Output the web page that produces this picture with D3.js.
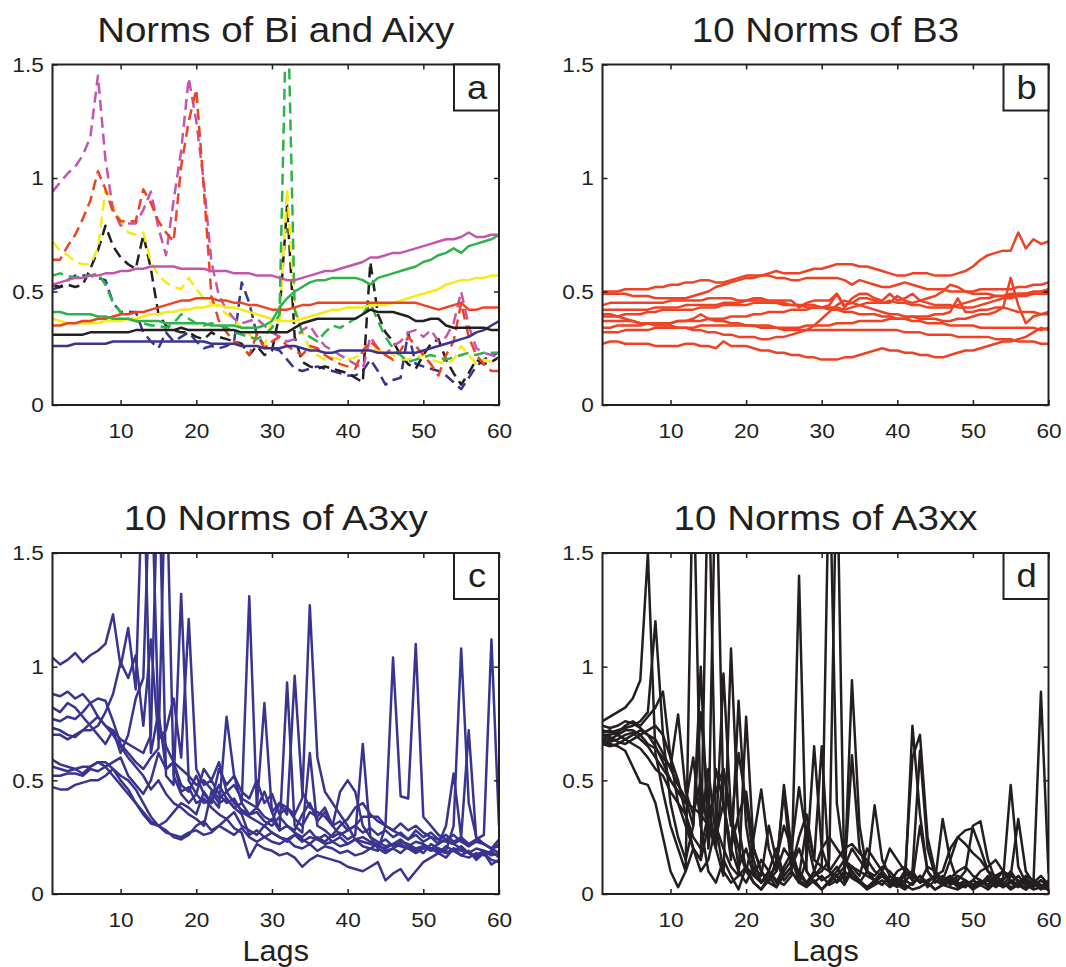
<!DOCTYPE html>
<html><head><meta charset="utf-8">
<script src="https://cdn.jsdelivr.net/npm/d3@7"></script>
<style>
body{margin:0;background:#fff}
svg{display:block}
text{font-family:"Liberation Sans",Arial,Helvetica,sans-serif;fill:#231f20}
</style>
</head><body><svg id="chart" width="1066" height="967"></svg>
<script>
// ---------------- DATA ----------------
const lags = d3.range(1, 61);
const xTickValues = [10, 20, 30, 40, 50, 60];
const yTickValues = [0, 0.5, 1, 1.5];
const yTickLabels = ["0", "0.5", "1", "1.5"];
const panelTitles = ["Norms of Bi and Aixy", "10 Norms of B3", "10 Norms of A3xy", "10 Norms of A3xx"];
const panelLetters = ["a", "b", "c", "d"];
const xAxisLabel = "Lags";

// Panel a: solid = Bi, dashed = Aixy
const aMagentaSolid = [0.53,0.54,0.55,0.56,0.56,0.57,0.57,0.58,0.58,0.59,0.59,0.60,0.60,0.61,0.61,0.61,0.61,0.60,0.60,0.60,0.60,0.59,0.59,0.59,0.58,0.58,0.58,0.57,0.57,0.57,0.56,0.55,0.55,0.56,0.57,0.58,0.59,0.59,0.60,0.61,0.62,0.63,0.65,0.65,0.66,0.67,0.67,0.68,0.69,0.70,0.71,0.72,0.73,0.73,0.74,0.76,0.74,0.74,0.75,0.75];
const aGreenSolid = [0.41,0.41,0.40,0.40,0.40,0.40,0.39,0.39,0.38,0.38,0.38,0.37,0.37,0.37,0.37,0.36,0.36,0.36,0.36,0.36,0.36,0.35,0.35,0.35,0.35,0.34,0.34,0.34,0.35,0.37,0.43,0.47,0.50,0.52,0.54,0.55,0.55,0.56,0.56,0.56,0.56,0.55,0.53,0.56,0.57,0.58,0.59,0.60,0.61,0.63,0.64,0.66,0.67,0.69,0.67,0.70,0.71,0.72,0.73,0.75];
const aRedSolid = [0.35,0.35,0.36,0.36,0.37,0.37,0.38,0.38,0.39,0.40,0.40,0.41,0.41,0.42,0.43,0.44,0.45,0.46,0.46,0.47,0.47,0.47,0.46,0.46,0.45,0.45,0.44,0.44,0.43,0.42,0.42,0.42,0.43,0.44,0.44,0.45,0.45,0.45,0.45,0.45,0.45,0.45,0.45,0.45,0.45,0.45,0.45,0.45,0.45,0.44,0.43,0.42,0.43,0.44,0.45,0.42,0.42,0.43,0.43,0.43];
const aYellowSolid = [0.38,0.37,0.36,0.36,0.36,0.36,0.36,0.37,0.37,0.37,0.38,0.38,0.39,0.40,0.40,0.41,0.41,0.42,0.42,0.43,0.43,0.44,0.44,0.43,0.43,0.42,0.41,0.40,0.39,0.38,0.37,0.37,0.37,0.38,0.39,0.40,0.41,0.42,0.42,0.43,0.43,0.43,0.44,0.44,0.44,0.45,0.46,0.47,0.48,0.49,0.50,0.51,0.53,0.54,0.55,0.55,0.56,0.56,0.57,0.57];
const aBlackSolid = [0.31,0.31,0.31,0.31,0.31,0.32,0.32,0.32,0.32,0.32,0.32,0.33,0.33,0.33,0.33,0.33,0.33,0.34,0.33,0.33,0.33,0.33,0.33,0.33,0.33,0.32,0.32,0.32,0.32,0.32,0.32,0.32,0.34,0.36,0.37,0.38,0.38,0.38,0.38,0.38,0.38,0.40,0.42,0.41,0.41,0.41,0.40,0.39,0.37,0.37,0.38,0.38,0.35,0.34,0.34,0.34,0.34,0.34,0.33,0.33];
const aBlueSolid = [0.26,0.26,0.26,0.27,0.27,0.27,0.27,0.27,0.28,0.28,0.28,0.28,0.28,0.28,0.28,0.28,0.28,0.28,0.28,0.28,0.28,0.27,0.27,0.27,0.27,0.26,0.26,0.26,0.25,0.25,0.25,0.26,0.26,0.25,0.24,0.24,0.23,0.23,0.24,0.24,0.24,0.24,0.24,0.23,0.23,0.23,0.23,0.23,0.23,0.24,0.25,0.26,0.27,0.28,0.29,0.30,0.32,0.33,0.35,0.37];
const aMagentaDashed = [0.94,0.98,1.02,1.05,1.10,1.18,1.45,1.08,0.86,0.79,0.80,0.80,0.86,0.94,0.78,0.66,0.90,1.12,1.44,1.25,0.98,0.63,0.48,0.42,0.38,0.36,0.37,0.38,0.35,0.32,0.30,0.28,0.29,0.33,0.35,0.30,0.26,0.24,0.22,0.20,0.18,0.16,0.30,0.25,0.22,0.26,0.28,0.32,0.33,0.30,0.33,0.28,0.30,0.36,0.50,0.35,0.25,0.23,0.22,0.21];
const aRedDashed = [0.64,0.64,0.70,0.75,0.82,0.90,1.03,0.95,0.85,0.81,0.81,0.81,0.95,0.89,0.81,0.76,0.72,1.05,1.25,1.39,0.95,0.48,0.37,0.32,0.28,0.26,0.22,0.31,0.25,0.28,0.30,0.26,0.24,0.22,0.26,0.25,0.22,0.20,0.18,0.17,0.16,0.24,0.28,0.25,0.22,0.20,0.24,0.30,0.26,0.22,0.18,0.13,0.22,0.28,0.45,0.30,0.22,0.18,0.15,0.15];
const aGreenDashed = [0.57,0.58,0.57,0.56,0.57,0.57,0.58,0.53,0.45,0.41,0.38,0.37,0.36,0.35,0.35,0.34,0.36,0.40,0.38,0.36,0.35,0.36,0.35,0.34,0.32,0.31,0.30,0.29,0.31,0.34,0.40,1.90,0.42,0.32,0.30,0.28,0.32,0.35,0.34,0.36,0.38,0.40,0.45,0.37,0.30,0.25,0.22,0.19,0.20,0.21,0.22,0.21,0.20,0.21,0.22,0.23,0.22,0.23,0.23,0.23];
const aYellowDashed = [0.72,0.68,0.66,0.63,0.62,0.62,0.69,0.95,0.88,0.81,0.76,0.75,0.76,0.63,0.57,0.54,0.52,0.51,0.56,0.51,0.47,0.45,0.43,0.40,0.38,0.34,0.31,0.28,0.26,0.37,0.37,0.95,0.43,0.32,0.25,0.22,0.20,0.21,0.20,0.20,0.21,0.23,0.27,0.23,0.25,0.22,0.20,0.20,0.21,0.22,0.20,0.19,0.18,0.20,0.26,0.22,0.18,0.20,0.19,0.20];
const aBlackDashed = [0.53,0.52,0.53,0.52,0.53,0.60,0.68,0.79,0.70,0.65,0.62,0.60,0.75,0.60,0.40,0.35,0.33,0.32,0.32,0.30,0.29,0.32,0.30,0.29,0.28,0.27,0.22,0.26,0.22,0.24,0.40,0.88,0.30,0.19,0.17,0.16,0.17,0.16,0.15,0.14,0.12,0.10,0.63,0.40,0.32,0.28,0.22,0.18,0.16,0.22,0.27,0.29,0.20,0.14,0.09,0.14,0.20,0.18,0.19,0.21];
const aBlueDashed = [0.51,0.52,0.55,0.57,0.57,0.57,0.56,0.55,0.45,0.41,0.41,0.41,0.32,0.28,0.25,0.32,0.28,0.30,0.32,0.28,0.25,0.26,0.25,0.26,0.28,0.54,0.45,0.31,0.26,0.25,0.24,0.20,0.16,0.15,0.16,0.17,0.16,0.15,0.14,0.13,0.13,0.15,0.20,0.15,0.09,0.11,0.12,0.32,0.18,0.17,0.16,0.15,0.13,0.10,0.07,0.12,0.17,0.20,0.22,0.23];

// Panel b: 10 norms of B3
const b3Norms = [
[0.50,0.50,0.50,0.51,0.51,0.51,0.51,0.52,0.52,0.53,0.53,0.54,0.54,0.55,0.55,0.54,0.54,0.55,0.56,0.57,0.57,0.57,0.58,0.59,0.58,0.58,0.58,0.59,0.60,0.60,0.61,0.62,0.62,0.62,0.61,0.61,0.60,0.59,0.58,0.57,0.57,0.58,0.58,0.58,0.57,0.57,0.57,0.58,0.59,0.61,0.64,0.66,0.67,0.68,0.68,0.76,0.69,0.73,0.71,0.72],
[0.49,0.49,0.49,0.49,0.48,0.48,0.48,0.47,0.47,0.47,0.47,0.47,0.48,0.49,0.50,0.52,0.53,0.54,0.55,0.56,0.56,0.57,0.57,0.56,0.56,0.55,0.55,0.56,0.56,0.56,0.56,0.56,0.55,0.53,0.55,0.54,0.53,0.52,0.52,0.53,0.54,0.53,0.52,0.51,0.51,0.51,0.50,0.50,0.50,0.50,0.51,0.51,0.51,0.51,0.51,0.52,0.52,0.53,0.53,0.54],
[0.44,0.45,0.45,0.45,0.45,0.45,0.45,0.45,0.45,0.46,0.46,0.46,0.46,0.46,0.47,0.47,0.47,0.47,0.46,0.46,0.47,0.47,0.46,0.46,0.46,0.46,0.43,0.45,0.46,0.46,0.46,0.49,0.44,0.45,0.47,0.47,0.46,0.45,0.45,0.48,0.46,0.45,0.46,0.47,0.48,0.50,0.53,0.52,0.50,0.49,0.49,0.49,0.48,0.48,0.49,0.49,0.49,0.50,0.50,0.51],
[0.42,0.42,0.42,0.42,0.42,0.42,0.42,0.43,0.43,0.43,0.43,0.44,0.44,0.44,0.44,0.44,0.45,0.45,0.45,0.46,0.46,0.46,0.45,0.45,0.44,0.44,0.44,0.44,0.44,0.43,0.43,0.43,0.42,0.43,0.44,0.45,0.45,0.45,0.46,0.45,0.45,0.44,0.44,0.43,0.43,0.43,0.43,0.44,0.45,0.46,0.47,0.47,0.48,0.48,0.48,0.49,0.49,0.49,0.49,0.49],
[0.40,0.40,0.39,0.38,0.37,0.36,0.36,0.35,0.35,0.35,0.34,0.34,0.33,0.33,0.32,0.32,0.31,0.31,0.30,0.30,0.30,0.29,0.29,0.30,0.30,0.31,0.32,0.33,0.35,0.38,0.41,0.44,0.46,0.45,0.44,0.43,0.42,0.41,0.40,0.40,0.39,0.39,0.38,0.38,0.38,0.37,0.37,0.38,0.38,0.39,0.40,0.40,0.41,0.43,0.56,0.44,0.36,0.39,0.40,0.41],
[0.39,0.39,0.39,0.40,0.40,0.40,0.41,0.41,0.42,0.42,0.42,0.42,0.42,0.43,0.43,0.43,0.44,0.44,0.44,0.44,0.45,0.45,0.45,0.45,0.45,0.44,0.44,0.43,0.43,0.43,0.42,0.42,0.41,0.41,0.40,0.40,0.40,0.39,0.39,0.38,0.38,0.37,0.37,0.36,0.36,0.36,0.35,0.35,0.35,0.35,0.34,0.34,0.34,0.34,0.34,0.34,0.34,0.34,0.33,0.34],
[0.37,0.37,0.37,0.37,0.37,0.36,0.36,0.36,0.36,0.36,0.37,0.37,0.37,0.37,0.38,0.38,0.38,0.39,0.39,0.39,0.40,0.40,0.41,0.41,0.41,0.42,0.42,0.42,0.43,0.43,0.44,0.49,0.43,0.47,0.49,0.49,0.47,0.46,0.49,0.46,0.47,0.49,0.46,0.45,0.44,0.44,0.44,0.43,0.43,0.43,0.44,0.45,0.46,0.47,0.47,0.48,0.48,0.49,0.49,0.50],
[0.34,0.34,0.35,0.35,0.35,0.35,0.36,0.36,0.36,0.36,0.37,0.37,0.38,0.40,0.38,0.37,0.37,0.36,0.36,0.35,0.35,0.35,0.35,0.34,0.34,0.34,0.34,0.35,0.35,0.35,0.35,0.36,0.36,0.36,0.37,0.37,0.37,0.37,0.38,0.38,0.38,0.39,0.39,0.39,0.40,0.40,0.41,0.47,0.41,0.41,0.42,0.42,0.43,0.43,0.42,0.41,0.41,0.41,0.40,0.40],
[0.32,0.32,0.32,0.33,0.33,0.33,0.33,0.34,0.34,0.34,0.34,0.34,0.34,0.35,0.35,0.35,0.35,0.35,0.35,0.35,0.35,0.34,0.34,0.34,0.33,0.33,0.33,0.33,0.33,0.33,0.33,0.33,0.33,0.33,0.33,0.33,0.33,0.33,0.33,0.33,0.32,0.32,0.32,0.31,0.31,0.31,0.31,0.30,0.30,0.30,0.30,0.30,0.29,0.29,0.29,0.28,0.28,0.28,0.27,0.27],
[0.27,0.28,0.28,0.27,0.27,0.27,0.27,0.26,0.26,0.26,0.26,0.27,0.27,0.26,0.26,0.25,0.28,0.26,0.26,0.26,0.25,0.24,0.24,0.23,0.23,0.22,0.22,0.21,0.21,0.20,0.20,0.20,0.21,0.21,0.22,0.23,0.24,0.25,0.24,0.24,0.23,0.23,0.22,0.22,0.21,0.21,0.22,0.23,0.24,0.24,0.25,0.26,0.27,0.28,0.28,0.29,0.30,0.32,0.34,0.33]
];

// Panel c: 10 norms of A3xy
const a3xyNorms = [
[1.04,1.01,1.03,1.06,1.02,1.05,1.07,1.10,1.23,1.00,1.17,0.90,1.95,0.62,0.80,0.55,0.58,0.45,0.47,0.40,0.42,0.38,0.35,0.33,0.36,0.30,0.28,0.26,0.30,0.27,0.25,0.24,0.26,0.23,0.25,0.24,0.22,0.23,0.21,0.22,0.24,0.23,0.22,0.21,0.20,0.22,0.21,0.20,0.19,0.21,0.20,0.19,0.18,0.20,0.19,0.18,0.17,0.19,0.18,0.17],
[0.88,0.87,0.89,0.86,0.88,0.84,0.78,0.74,0.72,0.68,0.66,0.64,0.62,0.70,1.95,0.52,0.48,1.32,0.50,0.44,0.40,0.42,0.38,0.78,0.52,0.40,1.31,0.38,0.84,0.36,0.28,0.93,0.30,0.27,0.62,0.30,0.28,0.25,0.27,0.24,0.26,0.66,0.25,0.23,0.21,0.22,0.24,0.21,0.23,0.22,0.20,0.22,0.30,0.53,0.25,0.72,0.24,0.22,0.20,0.21],
[0.82,0.80,0.84,0.82,0.78,0.74,0.70,0.66,0.72,0.62,0.70,0.86,0.95,1.95,0.75,0.65,0.58,0.55,0.52,0.48,0.50,0.46,0.42,0.45,0.40,0.37,0.35,0.38,0.34,0.32,0.40,0.35,0.96,0.45,0.38,0.36,0.34,0.30,0.32,0.28,0.30,0.27,0.29,0.26,0.28,0.25,0.27,0.24,0.26,0.23,0.25,0.24,0.23,0.22,0.24,0.21,0.23,0.22,0.20,0.22],
[0.77,0.76,0.78,0.77,0.80,0.84,0.86,0.85,0.76,0.66,0.62,0.58,0.55,0.60,0.64,1.95,0.52,0.44,0.40,0.44,0.55,0.50,0.58,0.45,0.48,0.42,0.40,0.38,0.45,0.36,0.40,0.38,0.35,0.42,1.27,0.60,0.45,0.40,0.35,0.30,0.24,0.25,0.23,0.22,0.24,0.21,0.23,0.22,0.20,0.21,0.19,0.20,0.18,0.19,0.21,0.18,0.20,0.19,0.17,0.18],
[0.73,0.72,0.70,0.69,0.72,0.75,0.78,0.74,0.70,0.65,0.60,0.56,0.52,0.46,0.50,0.44,0.40,0.38,0.35,0.33,0.30,0.45,0.40,0.42,0.38,0.35,0.26,0.28,0.25,0.23,0.22,0.24,0.21,0.20,0.22,0.19,0.21,0.20,0.18,0.19,0.17,0.18,0.20,0.19,0.30,1.04,0.43,0.42,1.10,0.34,0.30,0.26,0.24,0.22,0.20,0.18,0.16,0.18,0.15,0.14],
[0.70,0.70,0.68,0.70,0.72,0.72,0.74,0.80,0.88,1.02,0.95,1.05,0.74,1.12,0.68,0.72,0.86,0.60,1.21,0.55,0.48,0.50,0.44,0.40,0.42,0.36,0.34,0.32,0.30,0.33,0.28,0.30,0.27,0.25,0.28,0.24,0.26,0.23,0.25,0.22,0.24,0.21,0.20,0.22,0.19,0.20,0.18,0.21,0.20,0.18,0.22,0.20,0.19,0.30,1.08,0.40,0.25,0.22,0.20,0.18],
[0.59,0.57,0.56,0.55,0.56,0.56,0.58,0.56,0.58,0.60,0.52,0.48,0.44,0.50,0.62,0.55,0.58,0.48,0.45,0.52,0.44,0.40,0.48,0.42,0.38,0.40,0.35,0.36,0.32,0.30,0.34,0.30,0.28,0.35,0.40,0.32,0.36,0.30,0.45,0.50,0.45,0.30,0.25,0.20,0.18,0.20,0.22,0.20,0.18,0.20,0.20,0.18,0.21,0.19,0.17,0.16,0.18,0.17,0.19,0.16],
[0.56,0.55,0.54,0.55,0.53,0.56,0.58,0.58,0.55,0.52,0.50,0.46,0.40,0.34,0.30,0.28,0.25,0.24,0.26,0.30,0.32,0.28,0.30,0.33,0.29,0.27,0.16,0.22,0.20,0.19,0.17,0.18,0.16,0.12,0.15,0.17,0.16,0.15,0.14,0.12,0.11,0.10,0.12,0.14,0.06,0.09,0.11,0.06,0.10,0.14,0.16,0.18,0.16,0.20,0.17,0.19,0.15,0.18,0.13,0.15],
[0.52,0.52,0.53,0.53,0.52,0.55,0.54,0.56,0.52,0.48,0.44,0.40,0.35,0.31,0.30,0.32,0.36,0.40,0.38,0.35,0.45,0.40,0.55,0.48,0.52,0.45,0.42,0.50,0.40,0.44,0.35,0.38,0.33,0.30,0.36,0.34,0.38,0.30,0.26,0.28,0.30,0.34,0.34,0.34,0.30,0.28,0.26,0.24,0.28,0.25,0.27,0.24,0.26,0.23,0.25,0.22,0.24,0.26,1.12,0.30],
[0.47,0.46,0.46,0.48,0.49,0.50,0.50,0.52,0.55,0.50,0.46,0.40,0.36,0.32,0.30,0.27,0.26,0.25,0.27,0.28,0.26,0.27,0.30,0.28,0.26,0.29,0.25,0.23,0.25,0.27,0.25,0.23,0.26,0.24,0.22,0.25,0.23,0.26,0.30,0.33,0.38,0.40,0.35,0.32,0.30,0.28,0.31,0.28,0.30,0.27,0.25,0.22,0.24,0.26,0.23,0.21,0.24,0.22,0.20,0.24]
];

// Panel d: 10 norms of A3xx
const a3xxNorms = [
[0.76,0.78,0.80,0.82,0.86,0.94,1.50,0.62,0.45,0.30,0.20,0.10,1.95,0.30,0.10,0.05,0.15,0.08,0.02,0.12,0.08,0.05,0.10,0.06,0.04,0.08,1.40,0.10,0.05,0.08,0.04,0.06,0.10,0.07,0.05,0.03,0.06,0.08,0.05,0.03,0.06,0.04,0.08,0.05,0.02,0.04,0.06,0.03,0.05,0.02,0.04,0.06,0.03,0.05,0.02,0.04,0.03,0.05,0.02,0.04],
[0.72,0.71,0.72,0.73,0.74,0.76,0.80,1.20,0.70,0.40,0.25,0.15,0.30,0.80,0.40,0.20,0.55,0.35,0.12,0.20,0.08,0.15,0.10,0.05,0.12,0.18,0.08,0.05,0.10,0.06,0.08,0.12,0.06,0.94,0.30,0.10,0.06,0.09,0.04,0.07,0.05,0.10,0.63,0.20,0.08,0.05,0.07,0.04,0.06,0.03,0.05,0.07,0.04,0.06,0.10,0.05,0.07,0.04,0.06,0.03],
[0.70,0.70,0.71,0.74,0.76,0.74,0.78,0.82,0.89,0.60,0.40,0.30,0.20,0.15,1.95,0.30,0.10,0.05,0.08,0.12,0.05,0.02,0.06,0.10,0.20,0.15,0.10,0.05,0.08,0.12,1.95,0.40,0.15,0.08,0.05,0.10,0.06,0.04,0.08,0.05,0.03,0.74,0.35,0.10,0.06,0.04,0.05,0.08,0.06,0.04,0.06,0.03,0.05,0.07,0.48,0.12,0.05,0.03,0.06,0.04],
[0.69,0.68,0.70,0.72,0.72,0.70,0.66,0.64,0.60,0.56,0.79,0.45,0.35,0.50,0.25,1.95,0.40,0.20,0.10,0.05,0.12,0.08,0.30,0.15,0.06,0.10,0.05,0.15,0.65,0.20,0.10,0.05,0.08,0.61,0.20,0.10,0.39,0.15,0.08,0.05,0.10,0.06,0.30,0.10,0.05,0.08,0.04,0.06,0.10,0.30,0.32,0.15,0.06,0.04,0.08,0.33,0.10,0.05,0.08,0.04],
[0.68,0.67,0.68,0.70,0.71,0.68,0.65,0.60,0.55,0.50,0.45,0.40,0.38,0.35,0.30,0.25,0.97,0.35,0.20,0.10,0.25,0.46,0.20,0.10,0.48,0.20,0.08,0.30,0.15,0.65,0.10,0.08,0.12,0.20,0.15,0.10,0.08,0.12,0.10,0.06,0.08,0.60,0.70,0.25,0.10,0.06,0.08,0.05,0.03,0.06,0.04,0.08,0.06,0.10,0.05,0.03,0.06,0.04,0.89,0.09],
[0.67,0.66,0.65,0.63,0.56,0.49,0.48,0.40,0.25,0.10,0.03,0.10,0.20,0.15,0.30,0.20,0.08,1.08,0.30,0.10,0.05,0.02,0.08,0.12,0.45,0.10,0.05,0.03,0.06,0.02,0.05,0.08,0.04,0.10,0.06,0.03,0.05,0.08,0.06,0.04,0.02,0.05,0.08,0.03,0.06,0.33,0.15,0.05,0.03,0.06,0.04,0.02,0.05,0.03,0.06,0.04,0.02,0.05,0.03,0.06],
[0.66,0.65,0.66,0.68,0.70,0.72,0.70,0.68,0.62,0.55,0.48,0.42,0.30,1.00,0.20,0.55,0.40,0.15,0.85,0.30,0.10,0.05,0.08,0.03,0.10,0.15,0.06,0.04,0.08,0.10,0.15,1.95,0.05,0.12,0.10,0.08,0.06,0.10,0.20,0.15,0.10,0.08,0.05,0.06,0.08,0.05,0.07,0.10,0.12,0.08,0.06,0.04,0.08,0.10,0.06,0.04,0.08,0.06,0.04,0.02],
[0.70,0.69,0.67,0.66,0.68,0.70,0.72,0.74,0.70,0.60,0.50,0.35,0.20,0.10,0.15,0.30,0.20,0.12,0.08,0.78,0.20,0.10,0.05,0.03,0.08,0.12,0.20,0.10,0.05,0.02,0.06,0.10,0.15,0.12,0.08,0.20,0.15,0.10,0.06,0.04,0.08,0.10,0.05,0.12,0.10,0.06,0.15,0.25,0.28,0.29,0.20,0.10,0.05,0.03,0.05,0.08,0.04,0.06,0.03,0.05],
[0.74,0.73,0.74,0.76,0.75,0.73,0.70,0.65,0.58,0.50,0.45,0.40,0.60,0.30,0.55,0.25,0.40,0.20,0.35,0.45,0.20,0.10,0.05,0.15,0.30,0.20,0.47,0.25,0.10,0.20,0.25,0.20,0.15,0.10,0.05,0.02,0.04,0.06,0.03,0.05,0.04,0.02,0.03,0.05,0.02,0.04,0.03,0.02,0.04,0.06,0.10,0.12,0.15,0.10,0.08,0.06,0.04,0.02,0.03,0.02],
[0.71,0.72,0.70,0.68,0.66,0.64,0.60,0.55,0.52,0.45,0.40,0.35,0.25,0.20,0.35,0.45,0.55,0.30,0.62,0.40,0.15,0.05,0.10,0.20,0.08,0.12,0.25,0.35,0.15,0.12,0.10,0.15,0.20,0.22,0.18,0.15,0.10,0.08,0.05,0.10,0.12,0.08,0.06,0.05,0.08,0.10,0.20,0.25,0.22,0.18,0.15,0.10,0.08,0.05,0.03,0.04,0.02,0.05,0.03,0.02]
];

// ---------------- STYLE ----------------
const COL = {
  magenta: "#c455ae", red: "#ef4224", green: "#2cb34a",
  yellow: "#f6eb14", black: "#231f20", blue: "#3a3491"
};
const INK = "#231f20";
const FONT = '"Liberation Sans", Arial, Helvetica, sans-serif';

const panelA = [
  {v: aBlueDashed, c: COL.blue, dash: true},
  {v: aBlackDashed, c: COL.black, dash: true},
  {v: aYellowDashed, c: COL.yellow, dash: true},
  {v: aMagentaDashed, c: COL.magenta, dash: true},
  {v: aRedDashed, c: COL.red, dash: true},
  {v: aGreenDashed, c: COL.green, dash: true},
  {v: aBlueSolid, c: COL.blue},
  {v: aBlackSolid, c: COL.black},
  {v: aYellowSolid, c: COL.yellow},
  {v: aRedSolid, c: COL.red},
  {v: aGreenSolid, c: COL.green},
  {v: aMagentaSolid, c: COL.magenta}
];

const panels = [
  {x0: 52.5, x1: 499, y0: 64.5, y1: 405, series: panelA, lags: false},
  {x0: 602.5, x1: 1048.5, y0: 64.5, y1: 405, series: b3Norms.map(v => ({v, c: COL.red})), lags: false},
  {x0: 52.5, x1: 499, y0: 553, y1: 894, series: a3xyNorms.map(v => ({v, c: COL.blue})), lags: true},
  {x0: 602.5, x1: 1048.5, y0: 553, y1: 894, series: a3xxNorms.map(v => ({v, c: COL.black})), lags: true}
];

const svg = d3.select("#chart");

function scaledText(g, x, y, str, size, sx, anchor) {
  return g.append("text")
    .attr("transform", `translate(${x},${y}) scale(${sx},1)`)
    .attr("text-anchor", anchor || "middle")
    .attr("font-size", size)
    .attr("font-family", FONT)
    .attr("fill", INK)
    .text(str);
}

panels.forEach((p, i) => {
  const g = svg.append("g");
  const xs = d3.scaleLinear().domain([1, 60]).range([p.x0, p.x1]);
  const ys = d3.scaleLinear().domain([0, 1.5]).range([p.y1, p.y0]);

  const clipId = "clip" + i;
  svg.append("defs").append("clipPath").attr("id", clipId)
    .append("rect").attr("x", p.x0).attr("y", p.y0)
    .attr("width", p.x1 - p.x0).attr("height", p.y1 - p.y0);

  const line = d3.line().x((d, k) => xs(lags[k])).y(d => ys(d));
  const lg = g.append("g").attr("clip-path", `url(#${clipId})`);
  p.series.forEach(s => {
    lg.append("path").attr("d", line(s.v))
      .attr("fill", "none").attr("stroke", s.c)
      .attr("stroke-width", 2.5)
      .attr("stroke-linejoin", "round")
      .attr("stroke-dasharray", s.dash ? "11,6" : null);
  });

  const styleAxis = ax => {
    ax.select(".domain").remove();
    ax.selectAll(".tick line").attr("stroke", INK).attr("stroke-width", 1.5);
    ax.attr("font-family", FONT);
  };
  const bottom = g.append("g").attr("transform", `translate(0,${p.y1})`)
    .call(d3.axisBottom(xs).tickValues(xTickValues).tickFormat(d => String(d))
      .tickSizeInner(-5).tickSizeOuter(0).tickPadding(18));
  styleAxis(bottom);
  bottom.selectAll(".tick text").attr("font-size", 21).attr("fill", INK)
    .attr("transform", "scale(1.08,1)");

  const top = g.append("g").attr("transform", `translate(0,${p.y0})`)
    .call(d3.axisTop(xs).tickValues(xTickValues).tickFormat("").tickSizeInner(-5).tickSizeOuter(0));
  styleAxis(top);

  const left = g.append("g").attr("transform", `translate(${p.x0},0)`)
    .call(d3.axisLeft(ys).tickValues(yTickValues).tickFormat((d, k) => yTickLabels[k])
      .tickSizeInner(-5).tickSizeOuter(0).tickPadding(8));
  styleAxis(left);
  left.selectAll(".tick text").attr("font-size", 21).attr("fill", INK)
    .attr("transform", "scale(1.08,1)");

  const right = g.append("g").attr("transform", `translate(${p.x1},0)`)
    .call(d3.axisRight(ys).tickValues(yTickValues).tickFormat("").tickSizeInner(-5).tickSizeOuter(0));
  styleAxis(right);

  g.append("rect").attr("x", p.x0).attr("y", p.y0)
    .attr("width", p.x1 - p.x0).attr("height", p.y1 - p.y0)
    .attr("fill", "none").attr("stroke", INK).attr("stroke-width", 2);

  g.append("rect").attr("x", p.x1 - 45).attr("y", p.y0)
    .attr("width", 45).attr("height", 46)
    .attr("fill", "#fff").attr("stroke", INK).attr("stroke-width", 2);
  scaledText(g, p.x1 - 22, p.y0 + 34, panelLetters[i], 33, 1.1);

  const cx = (p.x0 + p.x1) / 2;
  scaledText(g, cx, p.y0 - 23, panelTitles[i], 35, 1.1);

  if (p.lags) scaledText(g, cx, p.y1 + 67, xAxisLabel, 30, 1.02);
});
</script>
</body></html>
